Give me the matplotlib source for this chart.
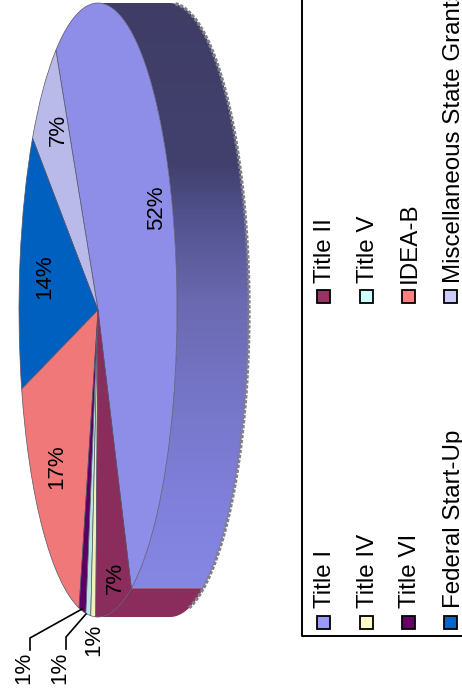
import numpy as np
import matplotlib
matplotlib.use('Agg')
import matplotlib.pyplot as plt
from matplotlib.colors import LinearSegmentedColormap
from matplotlib.patches import Polygon, Rectangle
from matplotlib.transforms import Affine2D

plt.rcParams['font.family'] = ['Liberation Sans', 'DejaVu Sans']

# slices, counter clockwise from the right hand edge of Title II
slice_names = ['Title I', 'Miscellaneous State Grants', 'Federal Start-Up', 'IDEA-B',
               'Title VI', 'Title V', 'Title IV', 'Title II']
slice_values = [52, 6.6, 13.6, 17, 1.4, 1, 1, 7.4]
slice_colors = ['#8e8ee8', '#b9b9ea', '#0060c0', '#f07878',
                '#5c0066', '#b8e4e4', '#f0f0b8', '#8a2c5c']

legend_col1 = ['Title I', 'Title IV', 'Title VI', 'Federal Start-Up']
legend_col2 = ['Title II', 'Title V', 'IDEA-B', 'Miscellaneous State Grants']
legend_colors = {'Title I': '#9999ff', 'Title II': '#993366', 'Title IV': '#ffffcc',
                 'Title V': '#ccffff', 'Title VI': '#660066', 'IDEA-B': '#ff8080',
                 'Federal Start-Up': '#0066cc', 'Miscellaneous State Grants': '#ccccff'}

# the whole chart is turned on its side, so work in pixels
CX, CY, RX, RY = 98, 310, 79, 307
DEPTH = 72
START = -65

fig = plt.figure(figsize=(4.62, 6.9), dpi=100)
ax = fig.add_axes([0, 0, 1, 1])

wedges, _ = ax.pie(slice_values, colors=slice_colors, startangle=START, counterclock=True,
                   frame=True, wedgeprops={'linewidth': 0.5, 'edgecolor': '#55556a'})
squash = Affine2D().scale(RX, -RY).translate(CX, CY) + ax.transData
for w in wedges:
    w.set_transform(squash)
    w.set_zorder(5)

ax.set_aspect('auto')
ax.set_xlim(0, 462)
ax.set_ylim(690, 0)
ax.axis('off')


def rim(a1, a2):
    t = np.radians(np.linspace(a1, a2, 80))
    x = CX + RX * np.cos(t)
    y = CY - RY * np.sin(t)
    return np.column_stack([np.r_[x, x[::-1] + DEPTH], np.r_[y, y[::-1]]])


# side of Title I, dark at the far end and lighter towards the front
side_cmap = LinearSegmentedColormap.from_list('side', [(0, '#3f3d66'), (0.27, '#42416e'), (0.34, '#50508a'),
                                                       (0.49, '#6b69b0'), (0.65, '#7676c8'), (0.81, '#8080dc'),
                                                       (1, '#8888e6')])
grad = np.linspace(0, 1, 256).reshape(-1, 1)
img = ax.imshow(grad, cmap=side_cmap, extent=[0, 462, 618, 0], aspect='auto', zorder=2)
side1 = Polygon(rim(START, 90), closed=True, transform=ax.transData, facecolor='none', edgecolor='none')
ax.add_patch(side1)
img.set_clip_path(side1)
ax.set_xlim(0, 462)
ax.set_ylim(690, 0)

ax.add_patch(Polygon(rim(-90, START), closed=True, facecolor='#8a2c5c', edgecolor='none', zorder=3))

# rough grey outer edge
t = np.radians(np.linspace(-76, 86, 200))
ax.plot(CX + DEPTH + RX * np.cos(t), CY - RY * np.sin(t), color='#808088', lw=2.4,
        linestyle=(0, (1.0, 0.5)), zorder=4)

# percent labels on the slices
label_x = [157, 58, 45, 57, 115]
label_y = [208, 130, 277, 467, 578]
label_vals = [slice_values[0], slice_values[1], slice_values[2], slice_values[3], slice_values[7]]
for x, y, v in zip(label_x, label_y, label_vals):
    ax.text(x, y, f'{v:.0f}%', rotation=90, fontsize=16, ha='center', va='center', zorder=7)

# the three small slices have their labels outside
small_x = [24, 60, 94]
small_y = [668, 668, 640]
for x, y, v in zip(small_x, small_y, slice_values[4:7]):
    ax.text(x, y, f'{v:.0f}%', rotation=90, fontsize=16, ha='center', va='center', zorder=7)
ax.plot([82, 30, 30], [609, 638, 650], color='black', lw=1.2, zorder=6)
ax.plot([86, 66, 66], [614, 637, 649], color='black', lw=1.2, zorder=6)

# legend box runs off the page at the top and right
ax.plot([302, 302, 470], [-5, 636, 636], color='black', lw=1.4, zorder=6, clip_on=False)

key_x = [323, 366, 408, 450]
text_x = [325, 368, 410, 454]
for names, key_y, text_y in [(legend_col1, 622, 608), (legend_col2, 296, 283)]:
    for kx, tx, name in zip(key_x, text_x, names):
        ax.add_patch(Rectangle((kx - 6.5, key_y - 6.5), 13, 13, facecolor=legend_colors[name],
                               edgecolor='black', lw=1.3, zorder=6))
        ax.text(tx, text_y, name, rotation=90, fontsize=17.4, ha='center', va='bottom', zorder=6)

fig.savefig('out.png', dpi=100)
